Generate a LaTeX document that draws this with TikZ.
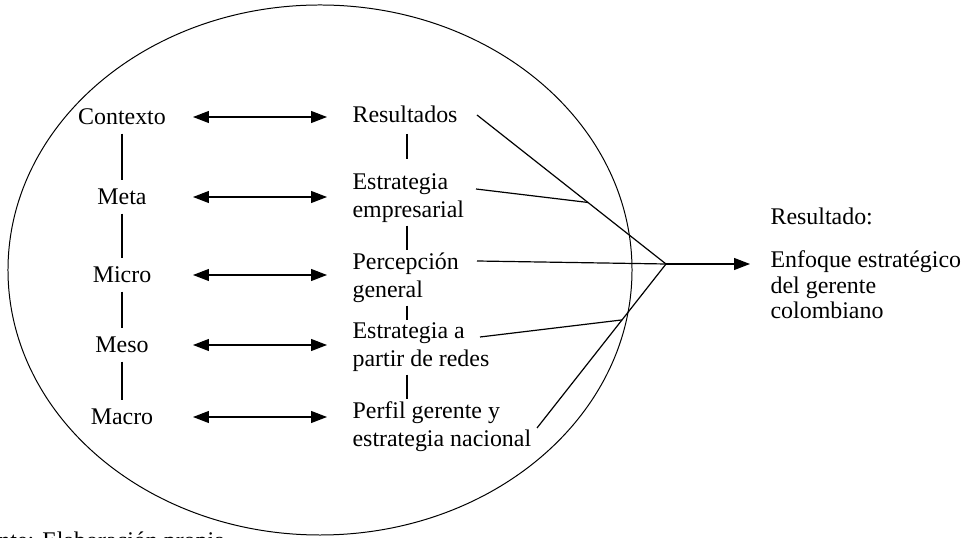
\documentclass[tikz,border=0pt]{standalone}
\usepackage{fontspec}
\setmainfont{Liberation Serif}
\usetikzlibrary{arrows.meta,calc}

\tikzset{
  level/.style={inner sep=4pt},
  effect/.style={anchor=base west,align=left,inner xsep=0pt,inner ysep=1pt},
  dbl/.style={<->},
}

\begin{document}
\begin{tikzpicture}[x=0.5bp,y=-0.5bp,font=\fontsize{12}{14.5}\selectfont,
  line width=0.6pt,>={Triangle[length=8pt,width=6pt]}]
\clip (0,0) rectangle (968,538);
\draw[line width=0.5pt] (320,270) ellipse [x radius=156bp,y radius=132.5bp];
% levels
\node[level] (ctx) at (122,117) {Contexto};
\node[level] (meta) at (122,197) {Meta};
\node[level] (micro) at (122,275) {Micro};
\node[level] (meso) at (122,345) {Meso};
\node[level] (macro) at (122,417) {Macro};
% effects (base = last line)
\node[effect] (res) at (352,123) {Resultados};
\node[effect] (emp) at (352,218) {Estrategia\\empresarial};
\node[effect] (perc) at (352,298) {Percepción\\general};
\node[effect] (redes) at (352,367) {Estrategia a\\partir de redes};
\node[effect] (perfil) at (352,447) {Perfil gerente y\\estrategia nacional};
% result
\node[anchor=base west,inner sep=0pt] (head) at (770,225) {Resultado:};
\node[anchor=base west,align=left,inner sep=0pt,font=\fontsize{12}{13}\selectfont]
  (out) at (770,319) {Enfoque estratégico\\del gerente\\colombiano};
\coordinate (al) at (193,0);
\coordinate (ar) at (327,0);
\coordinate (rx) at (407,0);
\path (ctx) edge (meta) (meta) edge (micro) (micro) edge (meso) (meso) edge (macro);
\path (res.south -| rx) edge[shorten <=4bp,shorten >=6bp] (emp.north -| rx)
  (emp.south -| rx) edge (perc.north -| rx)
  (perc.south -| rx) edge (redes.north -| rx)
  (redes.south -| rx) edge (perfil.north -| rx);
\path[dbl] (ctx -| al) edge (ctx -| ar)
  (meta -| al) edge (meta -| ar)
  (micro -| al) edge (micro -| ar)
  (meso -| al) edge (meso -| ar)
  (macro -| al) edge (macro -| ar);
% convergence
\coordinate (P) at (666,264);
\coordinate (a1) at (477,115);
\coordinate (a2) at (476,189);
\coordinate (a3) at (477,261);
\coordinate (a4) at (480,337);
\coordinate (a5) at (537,428);
\draw (a1) -- (P);
\draw (a2) -- ($(a1)!0.587!(P)$);
\draw (a3) -- (P);
\draw (a4) -- ($(a5)!0.659!(P)$);
\draw (a5) -- (P);
\draw[->,shorten >=10bp] (P) -- (P -| out.west);
\node[anchor=base west,inner sep=0pt] (src) at (-38,549) {Fuente: Elaboración propia};
\end{tikzpicture}
\end{document}
